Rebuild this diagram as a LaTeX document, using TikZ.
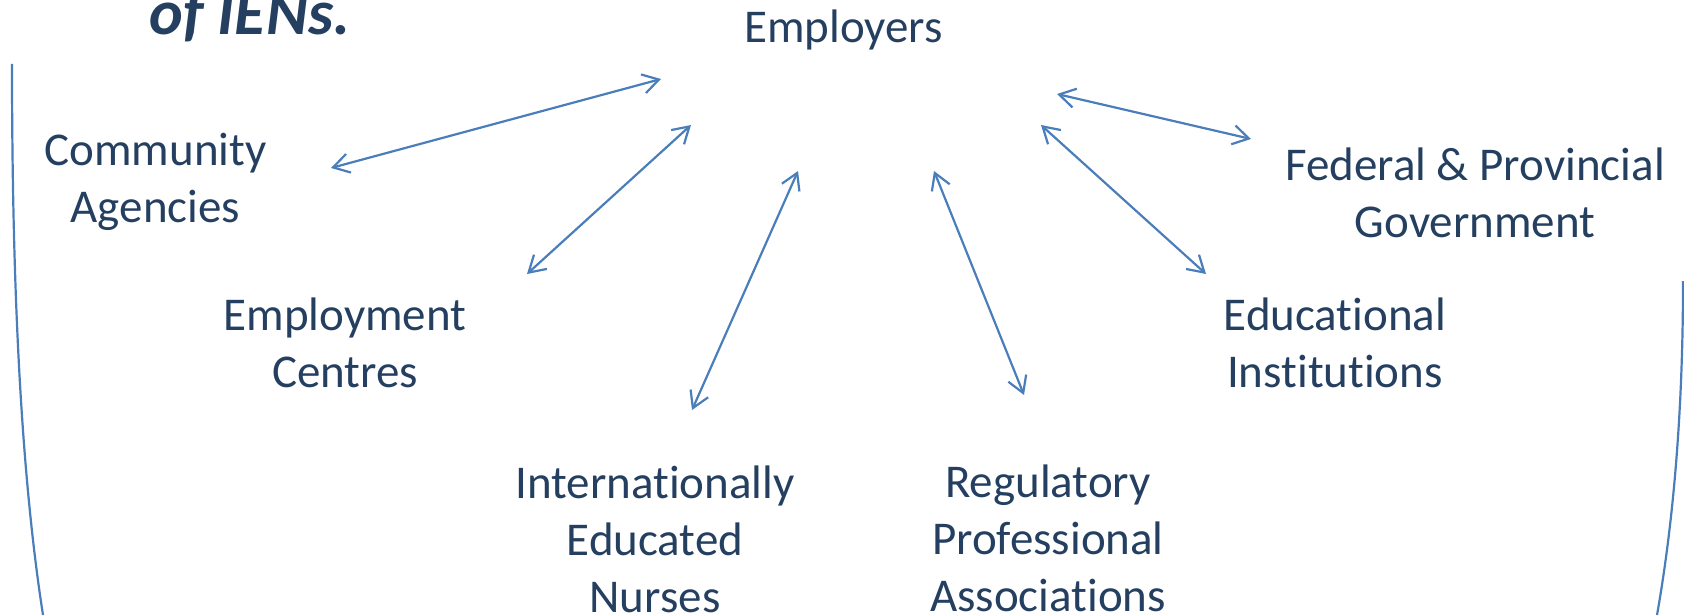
\documentclass[tikz,border=0pt]{standalone}
\usepackage{fontspec}
\setmainfont{Carlito}[Ligatures={NoCommon}]
\usetikzlibrary{arrows.meta}
\definecolor{labelnavy}{HTML}{243F60}
\definecolor{linkblue}{HTML}{4A7EBB}
\tikzset{
  % multi-line labels: the base anchor sits on the last line's baseline
  party/.style={inner sep=0pt, anchor=base, align=center, text=labelnavy,
    font=\fontsize{23.5pt}{28.5pt}\selectfont},
  heading/.style={inner sep=0pt, anchor=base, text=labelnavy,
    font=\fontsize{32pt}{36pt}\selectfont\bfseries\itshape},
  link/.style={draw=linkblue, line width=1.1pt,
    {Straight Barb[length=8pt,width=9.6pt]}-{Straight Barb[length=8pt,width=9.6pt]}},
  frame/.style={draw=linkblue, line width=1.1pt}
}
\begin{document}
\begin{tikzpicture}[x=0.5pt,y=-0.5pt]
  \useasboundingbox (0,0) rectangle (1684,615);

  % heading fragment at the top edge
  \node[heading] (title) at (250,35) {of IENs.};

  % stakeholders
  \node[party] (emp) at (843.5,43) {Employers};
  \node[party] (comm) at (155.5,222) {Community\\Agencies};
  \node[party] (cent) at (345,387) {Employment\\Centres};
  \node[party] (ien) at (655,612) {Internationally\\Educated\\Nurses};
  \node[party] (reg) at (1048,611) {Regulatory\\Professional\\Associations};
  \node[party] (edu) at (1335,387) {Educational\\Institutions};
  \node[party] (gov) at (1475,237) {Federal \& Provincial\\Government};

  % arrow ends
  \coordinate (a1) at (331,168);  \coordinate (b1) at (661,79);
  \coordinate (a2) at (527,274);  \coordinate (b2) at (691,125);
  \coordinate (a3) at (692,410);  \coordinate (b3) at (798,171);
  \coordinate (a4) at (1024,395); \coordinate (b4) at (934,171);
  \coordinate (a5) at (1206,274); \coordinate (b5) at (1041,125);
  \coordinate (a6) at (1251,139); \coordinate (b6) at (1057,94);

  \draw[link] (a1) -- (b1);
  \draw[link] (a2) -- (b2);
  \draw[link] (a3) -- (b3);
  \draw[link] (a4) -- (b4);
  \draw[link] (a5) -- (b5);
  \draw[link] (a6) -- (b6);

  % enclosing curved sides
  \coordinate (l0) at (12,64);    \coordinate (l1) at (43,615);
  \coordinate (r0) at (1683,281); \coordinate (r1) at (1657,615);
  \draw[frame] (l0) .. controls (12,300) and (22,480) .. (l1);
  \draw[frame] (r0) .. controls (1683,420) and (1672,530) .. (r1);
\end{tikzpicture}
\end{document}
